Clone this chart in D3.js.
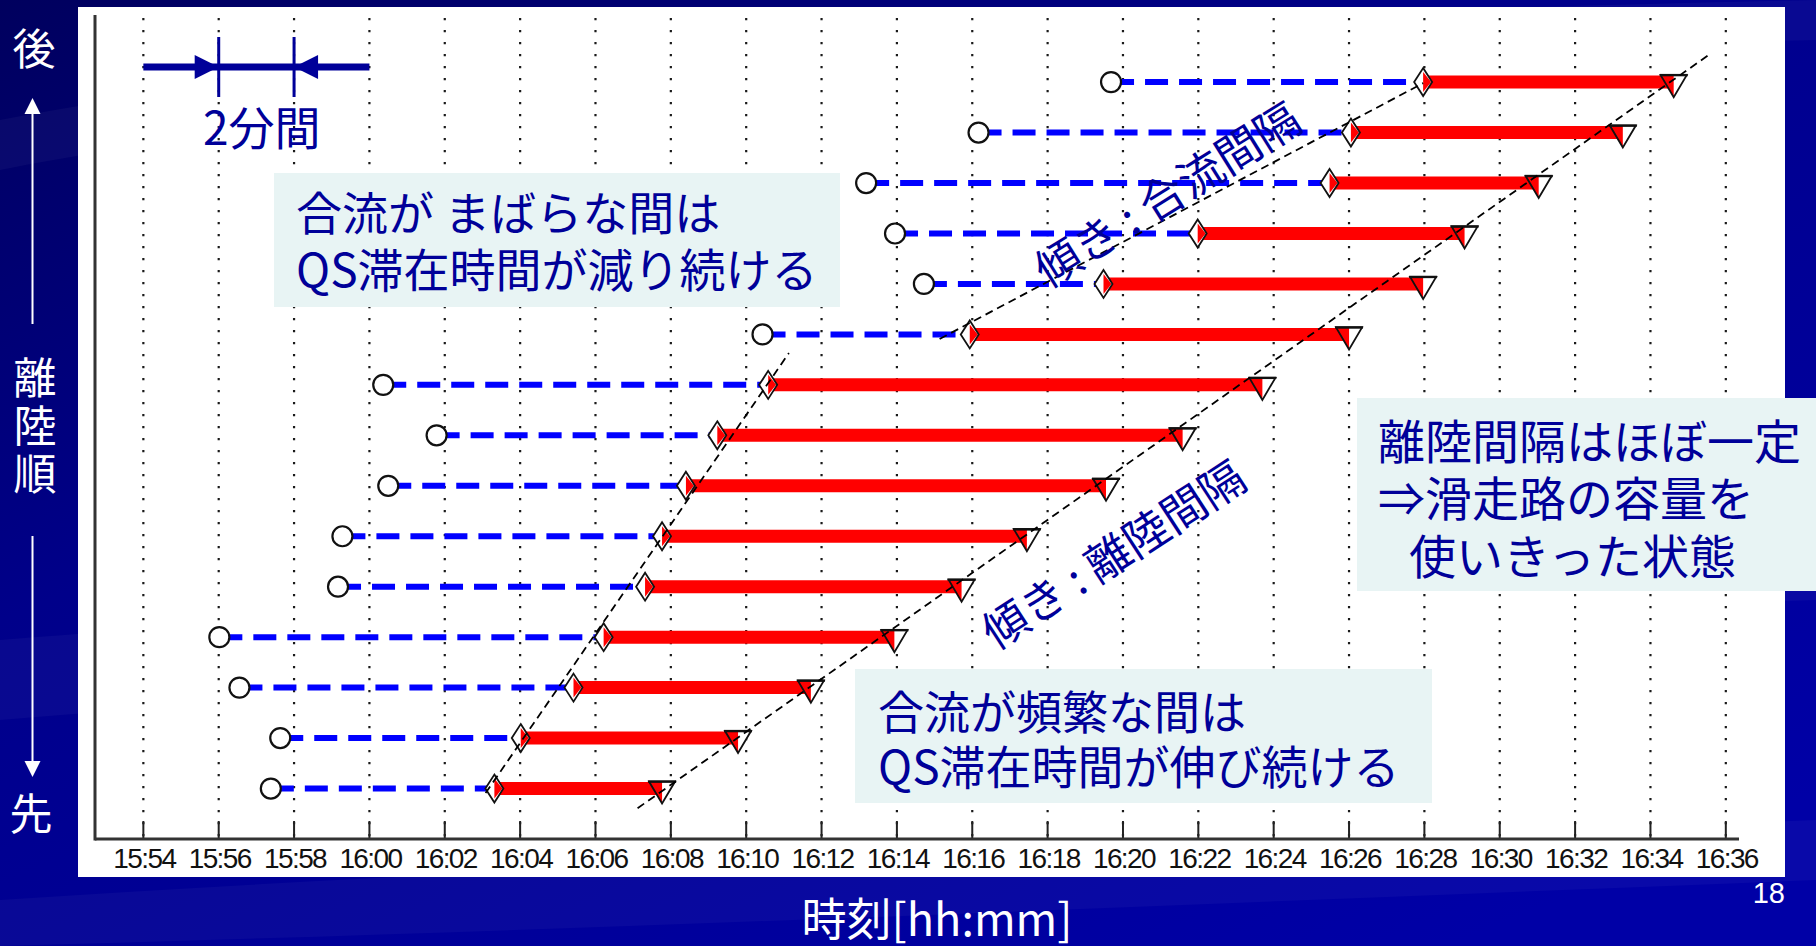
<!DOCTYPE html>
<html>
<head>
<meta charset="utf-8">
<script src="https://cdn.jsdelivr.net/npm/d3@7"></script>
<style>
  html, body { margin: 0; padding: 0; background: #000080; overflow: hidden; }
  svg { display: block; }
</style>
</head>
<body>
<svg id="chart" width="1816" height="946"></svg>
<script>
// ---- data: one entry per aircraft, in take-off order (1 = first) ----
const takeoffOrder = [1, 2, 3, 4, 5, 6, 7, 8, 9, 10, 11, 12, 13, 14, 15];
// time the aircraft joined the queue (open circle)
const queueEntry = ["15:57:23", "15:57:38", "15:56:33", "15:56:01", "15:59:10",
                    "15:59:17", "16:00:30", "16:01:47", "16:00:22", "16:10:26",
                    "16:14:43", "16:13:57", "16:13:11", "16:16:10", "16:19:41"];
// time the aircraft merged into the departure stream (diamond)
const mergeTime  = ["16:03:19", "16:04:01", "16:05:25", "16:06:13", "16:07:19",
                    "16:07:46", "16:08:24", "16:09:14", "16:10:35", "16:15:56",
                    "16:19:29", "16:21:59", "16:25:29", "16:26:03", "16:27:58"];
// take-off time (down triangle)
const takeoffTime = ["16:07:46", "16:09:47", "16:11:43", "16:13:56", "16:15:43",
                     "16:17:27", "16:19:33", "16:21:35", "16:23:42", "16:26:00",
                     "16:27:58", "16:29:04", "16:31:02", "16:33:16", "16:34:37"];

const tickLabels = ["15:54", "15:56", "15:58", "16:00", "16:02", "16:04", "16:06",
                    "16:08", "16:10", "16:12", "16:14", "16:16", "16:18", "16:20",
                    "16:22", "16:24", "16:26", "16:28", "16:30", "16:32", "16:34", "16:36"];
const xLimits = ["15:52:43", "16:36:21"];
const yLimits = [0, 16.33];

// slope guides: [time, order] end points
const mergeGuideDense  = [["16:03:05", 0.91], ["16:11:08", 9.63]];
const mergeGuideSparse = [["16:15:08", 9.91], ["16:27:58", 14.98]];
const takeoffGuide     = [["16:07:07", 0.61], ["16:35:33", 15.54]];

const scaleMark = ["15:54", "15:56", "15:58", "16:00"];   // 2-minute bracket
const scaleLabel = "2分間";
const slopeMergeLabel = "傾き : 合流間隔";
const slopeTakeoffLabel = "傾き : 離陸間隔";
const noteSparse = ["合流が まばらな間は", "QS滞在時間が減り続ける"];
const noteDense = ["合流が頻繁な間は", "QS滞在時間が伸び続ける"];
const noteRunway = ["離陸間隔はほぼ一定", "⇒滑走路の容量を", "使いきった状態"];
const yLabelTop = "後", yLabelMid = "離陸順", yLabelBottom = "先";
const xTitle = "時刻[hh:mm]";
const pageNo = "18";

// ---- setup ----
const parse = d3.timeParse("%H:%M:%S");
const parseHM = d3.timeParse("%H:%M");
const rows = takeoffOrder.map((o, i) => ({
  order: o,
  entry: parse(queueEntry[i]),
  merge: parse(mergeTime[i]),
  takeoff: parse(takeoffTime[i])
}));

const svg = d3.select("#chart");
const W = 1816, H = 946;
const NAVY = "#000099";
const JP = "'Noto Sans CJK JP', 'Noto Sans', sans-serif";

const x = d3.scaleTime().domain(xLimits.map(parse)).range([95, 1739]);
const y = d3.scaleLinear().domain(yLimits).range([839, 15]);
const tickValues = tickLabels.map(parseHM);

// ---- slide background ----
const defs = svg.append("defs");
const bg = defs.append("linearGradient").attr("id", "bg")
  .attr("x1", 0).attr("y1", 0).attr("x2", 0.8).attr("y2", 1);
bg.append("stop").attr("offset", 0).attr("stop-color", "#00005e");
bg.append("stop").attr("offset", 0.4).attr("stop-color", "#00008a");
bg.append("stop").attr("offset", 1).attr("stop-color", "#0000a6");
svg.append("rect").attr("width", W).attr("height", H).attr("fill", "url(#bg)");
// soft diagonal sweeps of the theme
const sweeps = [
  "M0,120 C300,60 900,20 1816,0 L1816,40 C900,60 300,110 0,170 Z",
  "M0,640 C500,600 1200,560 1816,540 L1816,600 C1200,620 500,680 0,720 Z",
  "M0,900 C600,860 1300,840 1816,820 L1816,880 C1300,900 600,930 0,946 Z"
];
svg.append("g").selectAll("path").data(sweeps).join("path")
  .attr("d", d => d).attr("fill", "#ffffff").attr("opacity", 0.035);

// white plot panel
svg.append("rect").attr("x", 78).attr("y", 7).attr("width", 1707).attr("height", 870)
  .attr("fill", "#ffffff");

// ---- grid ----
svg.append("g").selectAll("line.grid").data(tickValues).join("line").attr("class", "grid")
  .attr("x1", d => x(d)).attr("x2", d => x(d))
  .attr("y1", y(yLimits[1]) + 3).attr("y2", y(0))
  .attr("stroke", "#1a1a1a").attr("stroke-width", 2.2).attr("stroke-dasharray", "2.2,9.8");

// ---- text boxes (behind marks, over grid) ----
function noteBox(x0, y0, w, h, lines, tx, baselines, indents, size) {
  const g = svg.append("g");
  g.append("rect").attr("x", x0).attr("y", y0).attr("width", w).attr("height", h)
    .attr("fill", "#e8f4f4");
  const t = g.append("text")
    .attr("font-family", JP).attr("font-size", size).attr("fill", NAVY);
  t.selectAll("tspan").data(lines).join("tspan")
    .attr("x", (d, i) => tx + (indents ? indents[i] : 0))
    .attr("y", (d, i) => baselines[i])
    .text(d => d);
}
noteBox(274, 173, 566, 134, noteSparse, 296, [230, 287], null, 46);
noteBox(855, 669, 577, 134, noteDense, 878, [729, 784], null, 46);
noteBox(1357, 398, 459, 193, noteRunway, 1378, [459, 516, 574], [0, 0, 31], 47);

// ---- axes ----
svg.append("g").selectAll("line.tick").data(tickValues).join("line")
  .attr("x1", d => x(d)).attr("x2", d => x(d))
  .attr("y1", y(0)).attr("y2", y(0) - 18)
  .attr("stroke", "#222").attr("stroke-width", 2);
svg.append("g").selectAll("text.tl").data(tickValues).join("text")
  .attr("x", d => x(d) + 1).attr("y", 868)
  .attr("text-anchor", "middle")
  .attr("font-family", "'Liberation Sans', Arial, sans-serif")
  .attr("font-size", 28).attr("letter-spacing", -1.6).attr("fill", "#111")
  .text((d, i) => tickLabels[i]);
svg.append("line").attr("x1", x.range()[0]).attr("x2", x.range()[0])
  .attr("y1", y(yLimits[1])).attr("y2", y(0) + 1.5)
  .attr("stroke", "#333").attr("stroke-width", 3);
svg.append("line").attr("x1", x.range()[0]).attr("x2", x.range()[1])
  .attr("y1", y(0)).attr("y2", y(0))
  .attr("stroke", "#333").attr("stroke-width", 3);

// ---- marks ----
const marks = svg.append("g");
// queue waiting (blue dashed)
marks.selectAll("line.wait").data(rows).join("line")
  .attr("x1", d => x(d.entry)).attr("x2", d => x(d.merge))
  .attr("y1", d => y(d.order)).attr("y2", d => y(d.order))
  .attr("stroke", "#0000ff").attr("stroke-width", 6).attr("stroke-dasharray", "23,11");
// runway queue (red bar)
marks.selectAll("line.qs").data(rows).join("line")
  .attr("x1", d => x(d.merge)).attr("x2", d => x(d.takeoff))
  .attr("y1", d => y(d.order)).attr("y2", d => y(d.order))
  .attr("stroke", "#ff0000").attr("stroke-width", 13);
// entry circles
marks.selectAll("circle").data(rows).join("circle")
  .attr("cx", d => x(d.entry)).attr("cy", d => y(d.order)).attr("r", 10)
  .attr("fill", "#fff").attr("stroke", "#111").attr("stroke-width", 2.2);
// merge diamonds
const dia = marks.selectAll("g.dia").data(rows).join("g")
  .attr("transform", d => `translate(${x(d.merge)},${y(d.order)})`);
dia.append("path").attr("d", "M0,-14L9,0L0,14L-9,0Z").attr("fill", "#fff");
dia.append("path").attr("d", "M0,-10L8,0L0,10Z").attr("fill", "#ff0000");
dia.append("path").attr("d", "M0,-14L9,0L0,14L-9,0Z").attr("fill", "none")
  .attr("stroke", "#111").attr("stroke-width", 1.8);
// take-off triangles
const tri = marks.selectAll("g.tri").data(rows).join("g")
  .attr("transform", d => `translate(${x(d.takeoff)},${y(d.order)})`);
tri.append("path").attr("d", "M-13,-7L13,-7L0,15Z").attr("fill", "#fff");
tri.append("path").attr("d", "M-13,-7L0,-7L0,15Z").attr("fill", "#ff0000");
tri.append("path").attr("d", "M-13,-7L13,-7L0,15Z").attr("fill", "none")
  .attr("stroke", "#111").attr("stroke-width", 1.8);
tri.append("line").attr("x1", -14).attr("x2", 14).attr("y1", -7).attr("y2", -7)
  .attr("stroke", "#111").attr("stroke-width", 2.4);

// ---- slope guides ----
const guideLine = d3.line().x(d => x(parse(d[0]))).y(d => y(d[1]));
svg.append("g").selectAll("path").data([mergeGuideDense, mergeGuideSparse, takeoffGuide])
  .join("path").attr("d", guideLine).attr("fill", "none")
  .attr("stroke", "#000").attr("stroke-width", 1.8).attr("stroke-dasharray", "8,5");

// slope labels
const slopeLabels = [
  { text: slopeMergeLabel, cx: 1166, cy: 192, angle: -32 },
  { text: slopeTakeoffLabel, cx: 1112, cy: 552, angle: -33 }
];
svg.append("g").selectAll("text").data(slopeLabels).join("text")
  .attr("transform", d => `translate(${d.cx},${d.cy}) rotate(${d.angle})`)
  .attr("text-anchor", "middle").attr("dominant-baseline", "central")
  .attr("font-family", JP).attr("font-size", 45).attr("fill", NAVY)
  .text(d => d.text);

// ---- 2-minute bracket ----
const sm = scaleMark.map(parseHM);
const by = 67;
const br = svg.append("g").attr("fill", NAVY).attr("stroke", NAVY);
br.append("line").attr("x1", x(sm[0])).attr("x2", x(sm[3])).attr("y1", by).attr("y2", by)
  .attr("stroke-width", 7);
br.selectAll("line.bar").data([sm[1], sm[2]]).join("line")
  .attr("x1", d => x(d)).attr("x2", d => x(d)).attr("y1", 37).attr("y2", 97)
  .attr("stroke-width", 3);
br.append("path").attr("stroke", "none")
  .attr("d", `M${x(sm[1])},${by}L${x(sm[1]) - 24},${by - 12}L${x(sm[1]) - 24},${by + 12}Z`);
br.append("path").attr("stroke", "none")
  .attr("d", `M${x(sm[2])},${by}L${x(sm[2]) + 24},${by - 12}L${x(sm[2]) + 24},${by + 12}Z`);
svg.append("text").attr("x", 203).attr("y", 145)
  .attr("font-family", JP).attr("font-size", 46).attr("fill", NAVY).text(scaleLabel);

// ---- vertical axis caption on the slide ----
const cap = svg.append("g").attr("fill", "#fff").attr("font-family", JP).attr("font-size", 43);
cap.append("text").attr("x", 34).attr("y", 46).attr("text-anchor", "middle")
  .attr("dominant-baseline", "central").text(yLabelTop);
cap.append("text").attr("x", 35).attr("y", 356)
  .attr("writing-mode", "vertical-rl").attr("letter-spacing", 5)
  .text(yLabelMid);
cap.append("text").attr("x", 31).attr("y", 811).attr("text-anchor", "middle")
  .attr("dominant-baseline", "central").text(yLabelBottom);
const ax = svg.append("g").attr("stroke", "#fff").attr("fill", "#fff");
ax.append("line").attr("x1", 32.5).attr("x2", 32.5).attr("y1", 112).attr("y2", 324).attr("stroke-width", 2);
ax.append("path").attr("stroke", "none").attr("d", "M32.5,98L24.5,114L40.5,114Z");
ax.append("line").attr("x1", 32.5).attr("x2", 32.5).attr("y1", 536).attr("y2", 763).attr("stroke-width", 2);
ax.append("path").attr("stroke", "none").attr("d", "M32.5,777L24.5,761L40.5,761Z");

// x-axis title and page number
svg.append("text").attr("x", 937).attr("y", 936).attr("text-anchor", "middle")
  .attr("font-family", JP).attr("font-size", 45).attr("fill", "#fff").text(xTitle);
svg.append("text").attr("x", 1785).attr("y", 903).attr("text-anchor", "end")
  .attr("font-family", "'Liberation Sans', Arial, sans-serif").attr("font-size", 29)
  .attr("fill", "#fff").text(pageNo);
</script>
</body>
</html>
